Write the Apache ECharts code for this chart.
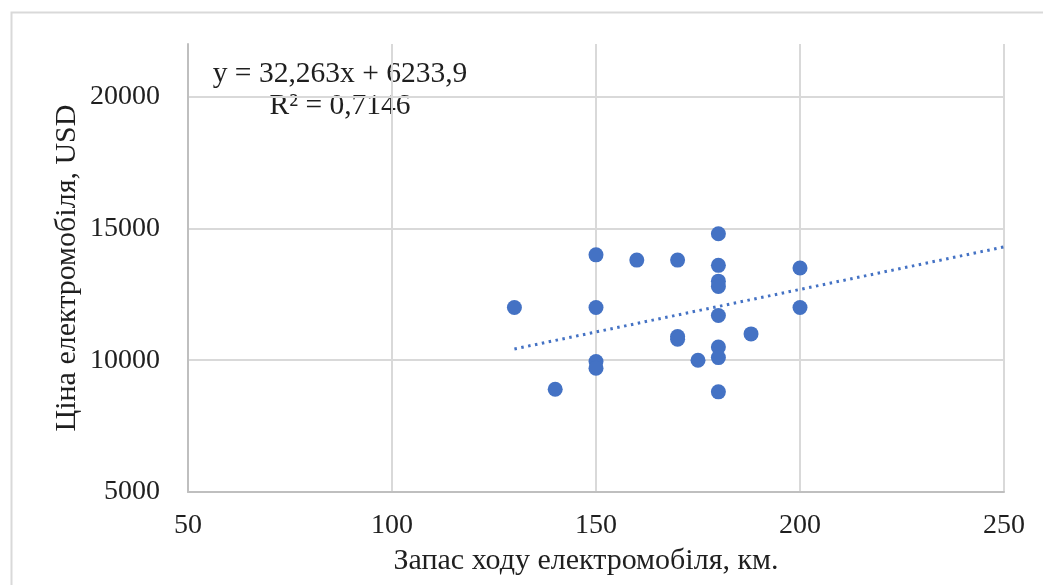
<!DOCTYPE html>
<html>
<head>
<meta charset="utf-8">
<script src="https://cdn.jsdelivr.net/npm/echarts@6/dist/echarts.min.js"></script>
<style>
  html, body { margin: 0; padding: 0; background: #fff; }
  #chart { width: 1043px; height: 585px; }
</style>
</head>
<body>
<div id="chart"></div>
<script>
// Запас ходу (км) і ціна (USD) електромобілів
const rangeKm = [130, 140, 150, 150, 150, 150, 160, 170, 170, 170, 175, 180, 180, 180, 180, 180, 180, 180, 180, 188, 200, 200];
const priceUsd = [12000, 8900, 14000, 12000, 9950, 9700, 13800, 13800, 10900, 10800, 10000, 14800, 13600, 13000, 12800, 11700, 10500, 10100, 8800, 11000, 13500, 12000];

// Лінійний тренд
const trendSlope = 32.263;
const trendIntercept = 6233.9;
const trendFrom = 130;
const trendTo = 250;
const equationText = 'y = 32,263x + 6233,9';
const r2Text = 'R² = 0,7146';

const xAxisTitle = 'Запас ходу електромобіля, км.';
const yAxisTitle = 'Ціна електромобіля, USD';

const points = rangeKm.map((x, i) => [x, priceUsd[i]]);
const trend = [trendFrom, trendTo].map(x => [x, trendSlope * x + trendIntercept]);

const font = '"Liberation Serif", "Times New Roman", serif';
const blue = '#4472C4';
const grid = '#d9d9d9';
const textColor = '#1f1f1f';

const chart = echarts.init(document.getElementById('chart'));
chart.setOption({
  animation: false,
  backgroundColor: '#fff',
  grid: { left: 188, right: 39, top: 44, bottom: 93 },
  xAxis: {
    type: 'value', min: 50, max: 250, interval: 50,
    name: xAxisTitle, nameLocation: 'middle', nameGap: 54,
    nameTextStyle: { fontFamily: font, fontSize: 30, color: textColor, padding: [0, 20, 0, 0] },
    axisLine: { show: true, lineStyle: { color: '#bfbfbf', width: 2 } },
    axisTick: { show: false },
    axisLabel: { fontFamily: font, fontSize: 28, color: textColor, margin: 20, formatter: v => String(v) },
    splitLine: { show: true, showMinLine: false, lineStyle: { color: grid, width: 2 } }
  },
  yAxis: {
    type: 'value', min: 5000, max: 22000, interval: 5000,
    name: yAxisTitle, nameLocation: 'middle', nameGap: 106, nameRotate: 90, nameMoveOverlap: false,
    nameTextStyle: { fontFamily: font, fontSize: 30, color: textColor },
    axisLine: { show: true, onZero: false, lineStyle: { color: '#bfbfbf', width: 2 } },
    axisTick: { show: false },
    axisLabel: { fontFamily: font, fontSize: 28, color: textColor, margin: 28, showMaxLabel: false, formatter: v => String(v) },
    splitLine: { show: true, showMinLine: false, showMaxLine: false, lineStyle: { color: grid, width: 2 } }
  },
  graphic: [
    {
      type: 'rect', left: 9, top: 10, silent: true,
      shape: { width: 1100, height: 640 },
      style: { fill: null, stroke: '#d9d9d9', lineWidth: 2 }
    },
    {
      type: 'text', x: 340, y: 59, silent: true,
      style: { text: equationText, font: '29.5px ' + font, fill: textColor, textAlign: 'center', textVerticalAlign: 'top' }
    },
    {
      type: 'text', x: 340, y: 91, silent: true,
      style: { text: r2Text, font: '29.5px ' + font, fill: textColor, textAlign: 'center', textVerticalAlign: 'top' }
    }
  ],
  series: [
    {
      type: 'line', data: trend, symbol: 'none', z: 1,
      lineStyle: { color: blue, width: 3, type: [2.5, 4.5] }
    },
    {
      type: 'scatter', data: points, symbol: 'circle', symbolSize: 15, z: 2,
      itemStyle: { color: blue, opacity: 1 }
    }
  ]
});
</script>
</body>
</html>
